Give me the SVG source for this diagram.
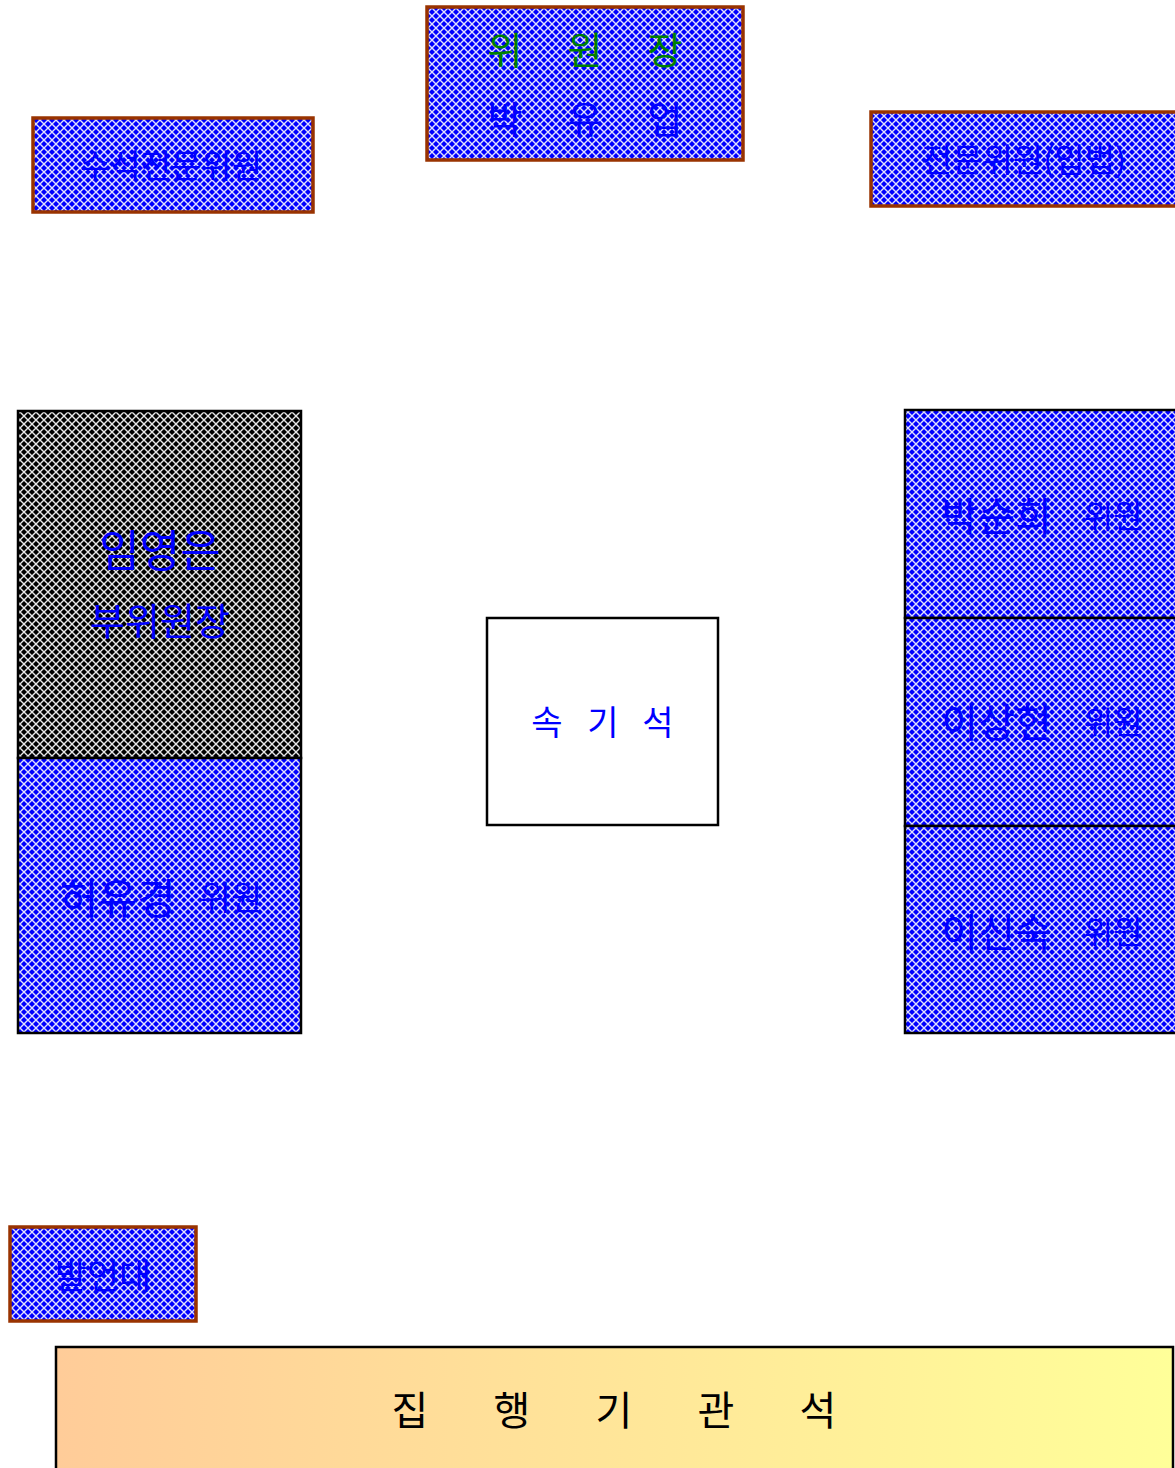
<svg xmlns="http://www.w3.org/2000/svg" width="1175" height="1468" viewBox="0 0 1175 1468">
<defs>
<pattern id="hb" patternUnits="userSpaceOnUse" width="8" height="8">
<rect width="8" height="8" fill="#0000ff"/>
<path d="M0,0 L8,8 M8,0 L0,8" stroke="#e0e0ff" stroke-width="1.4" fill="none"/>
</pattern>
<pattern id="hk" patternUnits="userSpaceOnUse" width="8" height="8">
<rect width="8" height="8" fill="#000000"/>
<path d="M0,0 L8,8 M8,0 L0,8" stroke="#e8e8e8" stroke-width="1.4" fill="none"/>
</pattern>
<linearGradient id="gy" x1="0" y1="0" x2="1" y2="0">
<stop offset="0" stop-color="#ffcc99"/>
<stop offset="1" stop-color="#ffff99"/>
</linearGradient>
</defs>
<style>
text{font-family:"Noto Sans CJK KR","Noto Sans",sans-serif;text-anchor:middle;dominant-baseline:central}
.b{fill:url(#hb)}
.br{stroke:#993300;stroke-width:3.5}
.bk{stroke:#000;stroke-width:2.5}
.tb{fill:#0000ff}
.tg{fill:#008000}
</style>
<rect width="1175" height="1468" fill="#fff"/>
<g id="connectors"></g>
<g id="chair">
<rect x="427" y="7" width="316" height="153" class="b br"/>
<text x="505" y="47" font-size="38" class="tg">위</text>
<text x="585" y="47" font-size="38" class="tg">원</text>
<text x="665" y="47" font-size="38" class="tg">장</text>
<text x="505" y="116" font-size="38" class="tb">박</text>
<text x="585" y="116" font-size="38" class="tb">유</text>
<text x="665" y="116" font-size="38" class="tb">업</text>
</g>
<g id="senior-expert">
<rect x="33" y="118" width="280" height="94" class="b br"/>
<text x="171" y="164" font-size="33" class="tb">수석전문위원</text>
</g>
<g id="expert">
<rect x="871" y="112" width="306" height="94" class="b br"/>
<text x="1024" y="158" font-size="33" class="tb">전문위원(입법)</text>
</g>
<g id="vice-chair">
<rect x="18" y="411" width="283" height="347" fill="url(#hk)" class="bk"/>
<text x="160" y="548" font-size="44" class="tb">임영은</text>
<text x="160" y="618" font-size="38" class="tb">부위원장</text>
</g>
<g id="member-heo">
<rect x="18" y="758" width="283" height="275" class="b bk"/>
<text x="161" y="895" class="tb"><tspan font-size="42">허유경</tspan><tspan font-size="34" dx="24">위원</tspan></text>
</g>
<g id="stenographer">
<rect x="487" y="618" width="231" height="207" fill="#fff" class="bk"/>
<text x="547" y="720" font-size="34" class="tb">속</text>
<text x="603" y="720" font-size="34" class="tb">기</text>
<text x="658" y="720" font-size="34" class="tb">석</text>
</g>
<g id="member-park">
<rect x="905" y="410" width="272" height="208" class="b bk"/>
<text x="1042" y="514" class="tb"><tspan font-size="40">박순희</tspan><tspan font-size="32" dx="32">위원</tspan></text>
</g>
<g id="member-lee1">
<rect x="905" y="618" width="272" height="208" class="b bk"/>
<text x="1042" y="720" class="tb"><tspan font-size="40">이상현</tspan><tspan font-size="32" dx="32">위원</tspan></text>
</g>
<g id="member-lee2">
<rect x="905" y="826" width="272" height="207" class="b bk"/>
<text x="1042" y="930" class="tb"><tspan font-size="40">이신숙</tspan><tspan font-size="32" dx="32">위원</tspan></text>
</g>
<g id="podium">
<rect x="10" y="1227" width="186" height="94" class="b br"/>
<text x="103" y="1273" font-size="35" class="tb">발언대</text>
</g>
<g id="executive">
<rect x="56" y="1347" width="1117" height="130" fill="url(#gy)" class="bk"/>
<text x="410" y="1408" font-size="40" fill="#000">집</text>
<text x="512" y="1408" font-size="40" fill="#000">행</text>
<text x="614" y="1408" font-size="40" fill="#000">기</text>
<text x="716" y="1408" font-size="40" fill="#000">관</text>
<text x="818" y="1408" font-size="40" fill="#000">석</text>
</g>
</svg>
